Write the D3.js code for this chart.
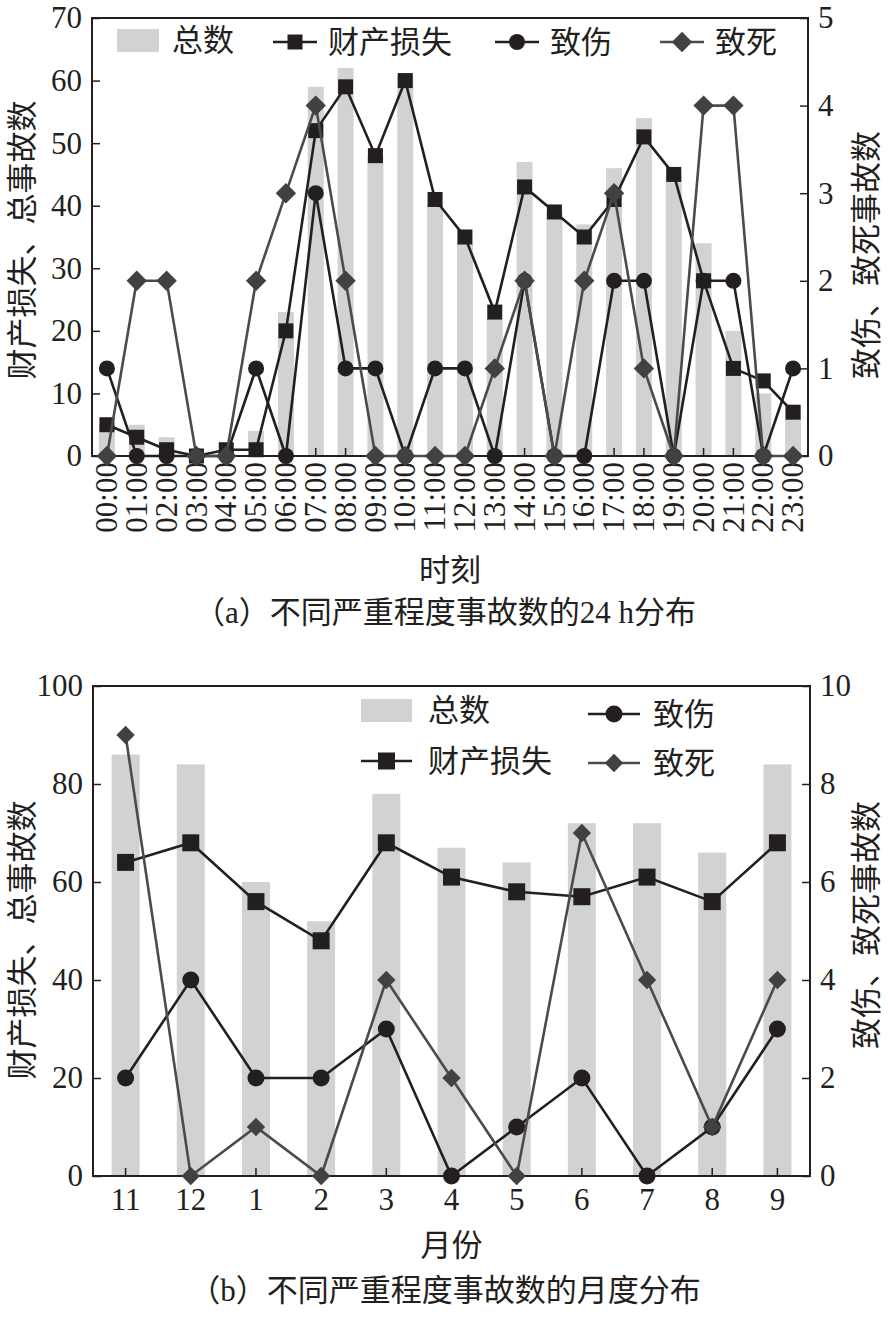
<!DOCTYPE html>
<html>
<head>
<meta charset="utf-8">
<script src="https://cdn.jsdelivr.net/npm/d3@7"></script>
<style>
  body { margin: 0; background: #fff; }
  text { font-family: "Liberation Serif", "Tinos", "Times New Roman", "DejaVu Serif", "Noto Sans CJK SC", serif; fill: #231f20; }
</style>
</head>
<body>
<script>
// panel (a): 24 h
var hours = ["00:00","01:00","02:00","03:00","04:00","05:00","06:00","07:00","08:00","09:00","10:00","11:00",
             "12:00","13:00","14:00","15:00","16:00","17:00","18:00","19:00","20:00","21:00","22:00","23:00"];
var hourTotal    = [5, 5, 3, 0, 1, 4, 23, 59, 62, 48, 61, 40, 34, 22, 47, 39, 37, 46, 54, 45, 34, 20, 10, 8];
var hourProperty = [5, 3, 1, 0, 1, 1, 20, 52, 59, 48, 60, 41, 35, 23, 43, 39, 35, 41, 51, 45, 28, 14, 12, 7];
var hourInjury   = [1, 0, 0, 0, 0, 1, 0, 3, 1, 1, 0, 1, 1, 0, 2, 0, 0, 2, 2, 0, 2, 2, 0, 1];
var hourDeath    = [0, 2, 2, 0, 0, 2, 3, 4, 2, 0, 0, 0, 0, 1, 2, 0, 2, 3, 1, 0, 4, 4, 0, 0];
var hourLeftTicks  = [0, 10, 20, 30, 40, 50, 60, 70];
var hourRightTicks = [0, 1, 2, 3, 4, 5];

// panel (b): month
var months = ["11", "12", "1", "2", "3", "4", "5", "6", "7", "8", "9"];
var monthTotal    = [86, 84, 60, 52, 78, 67, 64, 72, 72, 66, 84];
var monthProperty = [64, 68, 56, 48, 68, 61, 58, 57, 61, 56, 68];
var monthInjury   = [2, 4, 2, 2, 3, 0, 1, 2, 0, 1, 3];
var monthDeath    = [9, 0, 1, 0, 4, 2, 0, 7, 4, 1, 4];
var monthLeftTicks  = [0, 20, 40, 60, 80, 100];
var monthRightTicks = [0, 2, 4, 6, 8, 10];

var BAR = "#d1d2d4", INK = "#231f20", DEATH_LINE = "#4b4b4d", DEATH_MARK = "#414042";
var NUM_FONT = "'Liberation Serif', 'Tinos', 'Times New Roman', 'DejaVu Serif', serif";

var svg = d3.select("body").append("svg")
  .attr("width", 888)
  .attr("height", 1336);

function marker(g, kind, x, y, s) {
  if (kind == "square") {
    g.append("rect").attr("x", x - s / 2).attr("y", y - s / 2)
      .attr("width", s).attr("height", s).attr("fill", INK);
  } else if (kind == "circle") {
    g.append("circle").attr("cx", x).attr("cy", y).attr("r", s / 2).attr("fill", INK);
  } else {
    var d = s * 0.72;
    g.append("rect").attr("x", -d / 2).attr("y", -d / 2).attr("width", d).attr("height", d)
      .attr("transform", "translate(" + x + "," + y + ") rotate(45)")
      .attr("fill", DEATH_MARK);
  }
}

function drawPanel(p) {
  var g = svg.append("g");
  var x = d3.scaleBand().domain(p.cats).range([p.left, p.right]).padding(0);
  var yL = d3.scaleLinear().domain([0, p.leftTicks[p.leftTicks.length - 1]]).range([p.bottom, p.top]);
  var yR = d3.scaleLinear().domain([0, p.rightTicks[p.rightTicks.length - 1]]).range([p.bottom, p.top]);
  var cx = function (d, i) { return x(p.cats[i]) + x.bandwidth() / 2; };

  // bars
  g.selectAll(".bar").data(p.total).enter().append("rect")
    .attr("x", function (d, i) { return cx(d, i) - p.barW / 2; })
    .attr("y", function (d) { return yL(d); })
    .attr("width", p.barW)
    .attr("height", function (d) { return p.bottom - yL(d); })
    .attr("fill", BAR);

  // axes
  var ax = g.append("g").attr("transform", "translate(" + p.left + ",0)")
    .call(d3.axisLeft(yL).tickValues(p.leftTicks).tickFormat(d3.format("d"))
      .tickSize(-8).tickSizeOuter(0).tickPadding(10));
  var ar = g.append("g").attr("transform", "translate(" + p.right + ",0)")
    .call(d3.axisRight(yR).tickValues(p.rightTicks).tickFormat(d3.format("d"))
      .tickSize(-8).tickSizeOuter(0).tickPadding(10));
  var ab = g.append("g").attr("transform", "translate(0," + p.bottom + ")")
    .call(d3.axisBottom(x).tickSize(-8).tickSizeOuter(0).tickPadding(8));
  [ax, ar, ab].forEach(function (a) {
    a.attr("font-family", null);
    a.select(".domain").remove();
    a.selectAll("line").attr("stroke", INK).attr("stroke-width", 1.5);
    a.selectAll("text").attr("font-size", 31).attr("fill", INK)
      .style("font-family", NUM_FONT);
  });
  if (p.rotate) {
    ab.selectAll("text")
      .attr("transform", "rotate(-90)")
      .attr("text-anchor", "end")
      .attr("x", -6).attr("y", 0).attr("dy", "0.33em");
  } else {
    ab.selectAll("text").attr("dy", "0.85em");
  }

  // frame
  g.append("rect").attr("x", p.left).attr("y", p.top)
    .attr("width", p.right - p.left).attr("height", p.bottom - p.top)
    .attr("fill", "none").attr("stroke", INK).attr("stroke-width", 2);

  // lines (injury, property, death - death on top)
  var series = [
    { v: p.injury, y: yR, kind: "circle", stroke: INK, s: p.circleS },
    { v: p.property, y: yL, kind: "square", stroke: INK, s: p.squareS },
    { v: p.death, y: yR, kind: "diamond", stroke: DEATH_LINE, s: p.diamondS }
  ];
  series.forEach(function (s) {
    var line = d3.line().x(function (d, i) { return cx(d, i); }).y(function (d) { return s.y(d); });
    g.append("path").datum(s.v).attr("d", line)
      .attr("fill", "none").attr("stroke", s.stroke).attr("stroke-width", 2.6);
    s.v.forEach(function (d, i) { marker(g, s.kind, cx(d, i), s.y(d), s.s); });
  });

  // axis titles
  g.append("text").attr("transform", "translate(" + p.leftTitleX + "," + p.leftTitleY + ") rotate(-90)")
    .attr("text-anchor", "middle").attr("dy", "0.35em").attr("font-size", 31)
    .text("财产损失、总事故数");
  g.append("text").attr("transform", "translate(" + p.rightTitleX + "," + p.rightTitleY + ") rotate(-90)")
    .attr("text-anchor", "middle").attr("dy", "0.35em").attr("font-size", 31)
    .text("致伤、致死事故数");
  g.append("text").attr("x", (p.left + p.right) / 2).attr("y", p.xTitleY)
    .attr("text-anchor", "middle").attr("dy", "0.35em").attr("font-size", 31).text(p.xTitle);
  g.append("text").attr("x", 445).attr("y", p.captionY)
    .attr("text-anchor", "middle").attr("dy", "0.35em").attr("font-size", 31).text(p.caption);

  // legend
  p.legend.forEach(function (l) {
    if (l.kind == "bar") {
      g.append("rect").attr("x", l.x).attr("y", l.y - 11).attr("width", l.w).attr("height", 23).attr("fill", BAR);
    } else {
      g.append("line").attr("x1", l.x).attr("x2", l.x + l.w).attr("y1", l.y).attr("y2", l.y)
        .attr("stroke", l.kind == "diamond" ? DEATH_LINE : INK).attr("stroke-width", 2.6);
      var sz = l.kind == "square" ? p.squareS : (l.kind == "circle" ? p.circleS : p.diamondS);
      marker(g, l.kind, l.x + l.w / 2, l.y, sz);
    }
    g.append("text").attr("x", l.tx).attr("y", l.y).attr("dy", "0.36em")
      .attr("font-size", 31).text(l.label);
  });
}

drawPanel({
  cats: hours, total: hourTotal, property: hourProperty, injury: hourInjury, death: hourDeath,
  leftTicks: hourLeftTicks, rightTicks: hourRightTicks,
  left: 92, right: 808, top: 18, bottom: 456, barW: 16,
  squareS: 15, circleS: 16, diamondS: 20, rotate: true,
  leftTitleX: 22, leftTitleY: 240, rightTitleX: 866, rightTitleY: 255,
  xTitle: "时刻", xTitleY: 570, caption: "（a）不同严重程度事故数的24 h分布", captionY: 612,
  legend: [
    { kind: "bar", x: 117, y: 40, w: 42, tx: 172, label: "总数" },
    { kind: "square", x: 273, y: 42, w: 44, tx: 328, label: "财产损失" },
    { kind: "circle", x: 495, y: 42, w: 44, tx: 550, label: "致伤" },
    { kind: "diamond", x: 660, y: 42, w: 44, tx: 715, label: "致死" }
  ]
});

drawPanel({
  cats: months, total: monthTotal, property: monthProperty, injury: monthInjury, death: monthDeath,
  leftTicks: monthLeftTicks, rightTicks: monthRightTicks,
  left: 93, right: 810, top: 686, bottom: 1176, barW: 28,
  squareS: 17, circleS: 17, diamondS: 18, rotate: false,
  leftTitleX: 22, leftTitleY: 940, rightTitleX: 866, rightTitleY: 925,
  xTitle: "月份", xTitleY: 1245, caption: "（b）不同严重程度事故数的月度分布", captionY: 1290,
  legend: [
    { kind: "bar", x: 361, y: 710, w: 51, tx: 428, label: "总数" },
    { kind: "square", x: 361, y: 761, w: 51, tx: 428, label: "财产损失" },
    { kind: "circle", x: 588, y: 714, w: 52, tx: 653, label: "致伤" },
    { kind: "diamond", x: 588, y: 763, w: 52, tx: 653, label: "致死" }
  ]
});
</script>
</body>
</html>
